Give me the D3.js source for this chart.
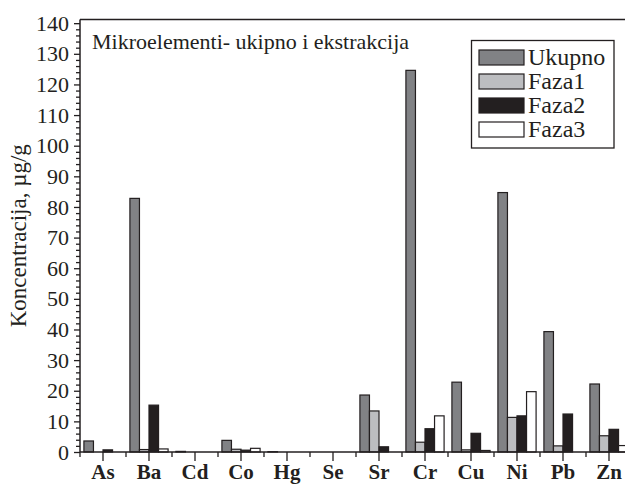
<!DOCTYPE html>
<html>
<head>
<meta charset="utf-8">
<script src="https://cdn.jsdelivr.net/npm/d3@7"></script>
<style>
html,body{margin:0;padding:0;background:#fff;overflow:hidden;}
</style>
</head>
<body>
<svg id="chart" width="625" height="484"></svg>
<script>
const categories = ["As","Ba","Cd","Co","Hg","Se","Sr","Cr","Cu","Ni","Pb","Zn"];
const seriesNames = ["Ukupno","Faza1","Faza2","Faza3"];
const ukupno = [3.6, 82.8, 0.2, 3.8, 0.1, 0, 18.6, 124.6, 22.8, 84.7, 39.3, 22.2];
const faza1  = [0,   0.8,  0,   0.9, 0,   0, 13.4, 3.2,   0.7,  11.3, 2.0,  5.3];
const faza2  = [0.7, 15.3, 0,   0.6, 0,   0, 1.7,  7.6,   6.1,  11.8, 12.4, 7.4];
const faza3  = [0,   1.0,  0,   1.2, 0,   0, 0,    11.8,  0.5,  19.7, 0,    2.1];
const yTicks = [0,10,20,30,40,50,60,70,80,90,100,110,120,130,140];
const title = "Mikroelementi- ukipno i ekstrakcija";
const yLabel = "Koncentracija, µg/g";

const seriesValues = [ukupno, faza1, faza2, faza3];
const colors = ["#818285", "#bcbdc0", "#231f20", "#ffffff"];
const FONT = "'Liberation Serif'";
const INK = "#231f20";

const svg = d3.select("#chart");
const mLeft = 80, mRight = 632, mTop = 19.5, mBottom = 452;

const x0 = d3.scaleBand().domain(categories).range([mLeft, mRight]).paddingInner(0.17).paddingOuter(0.085);
const x1 = d3.scaleBand().domain(seriesNames).range([0, x0.bandwidth()]);
const y = d3.scaleLinear().domain([0, 141.2]).range([mBottom, mTop]);

// bars
const data = [];
categories.forEach((c, i) => seriesNames.forEach((s, j) => data.push({c, s, j, v: seriesValues[j][i]})));
svg.append("g").selectAll("rect").data(data).join("rect")
  .attr("x", d => x0(d.c) + x1(d.s))
  .attr("y", d => y(d.v))
  .attr("width", x1.bandwidth())
  .attr("height", d => y(0) - y(d.v))
  .attr("fill", d => colors[d.j])
  .attr("stroke", INK)
  .attr("stroke-width", 1.2);

// frame
const frame = svg.append("g").attr("stroke", INK).attr("stroke-width", 1.5).attr("fill", "none");
frame.append("line").attr("x1", mLeft).attr("x2", mRight).attr("y1", mTop).attr("y2", mTop);
frame.append("line").attr("x1", mLeft).attr("x2", mRight).attr("y1", mBottom).attr("y2", mBottom);
frame.append("line").attr("x1", mLeft).attr("x2", mLeft).attr("y1", mTop).attr("y2", mBottom);

// y axis
const minor = d3.range(0, 141, 2).filter(v => v % 10 !== 0);
const yMinor = svg.append("g").attr("transform", `translate(${mLeft},0)`)
  .call(d3.axisLeft(y).tickValues(minor).tickSize(4).tickFormat(""));
yMinor.select(".domain").remove();
const yAxis = svg.append("g").attr("transform", `translate(${mLeft},0)`)
  .call(d3.axisLeft(y).tickValues(yTicks).tickSize(6).tickPadding(5));
yAxis.select(".domain").remove();
svg.selectAll(".tick line").attr("stroke", INK).attr("stroke-width", 1.3);
yAxis.selectAll("text").style("font-family", FONT).style("font-size", "22px").attr("fill", INK);

// x axis: long ticks at centers, short at boundaries
const xAxis = svg.append("g").attr("transform", `translate(0,${mBottom})`)
  .call(d3.axisBottom(x0).tickSize(9).tickPadding(0));
xAxis.select(".domain").remove();
xAxis.selectAll("line").attr("stroke", INK).attr("stroke-width", 1.3);
xAxis.selectAll("text").style("font-family", FONT).style("font-size", "21px").style("font-weight", "bold")
  .attr("fill", INK).attr("y", 27).attr("dy", null);
const step = x0.step();
const bounds = categories.map(c => x0(c) - x0.paddingOuter() * step);
svg.append("g").selectAll("line").data(bounds).join("line")
  .attr("x1", d => d).attr("x2", d => d)
  .attr("y1", mBottom).attr("y2", mBottom + 5)
  .attr("stroke", INK).attr("stroke-width", 1.3);

// y label
svg.append("text")
  .attr("transform", `translate(26,${(mTop + mBottom) / 2}) rotate(-90)`)
  .attr("text-anchor", "middle")
  .style("font-family", FONT).style("font-size", "23px").attr("fill", INK)
  .text(yLabel);

// title
svg.append("text").attr("x", 92).attr("y", 48.5)
  .style("font-family", FONT).style("font-size", "22px").attr("fill", INK).text(title);

// legend
const lg = svg.append("g");
lg.append("rect").attr("x", 471.5).attr("y", 40.5).attr("width", 142.5).attr("height", 107.5)
  .attr("fill", "#fff").attr("stroke", INK).attr("stroke-width", 1.3);
seriesNames.forEach((s, j) => {
  const yy = 50 + j * 24;
  lg.append("rect").attr("x", 479).attr("y", yy).attr("width", 45).attr("height", 15)
    .attr("fill", colors[j]).attr("stroke", INK).attr("stroke-width", 1.2);
  lg.append("text").attr("x", 528).attr("y", yy + 15)
    .style("font-family", FONT).style("font-size", "24px").attr("fill", INK).text(s);
});
</script>
</body>
</html>
